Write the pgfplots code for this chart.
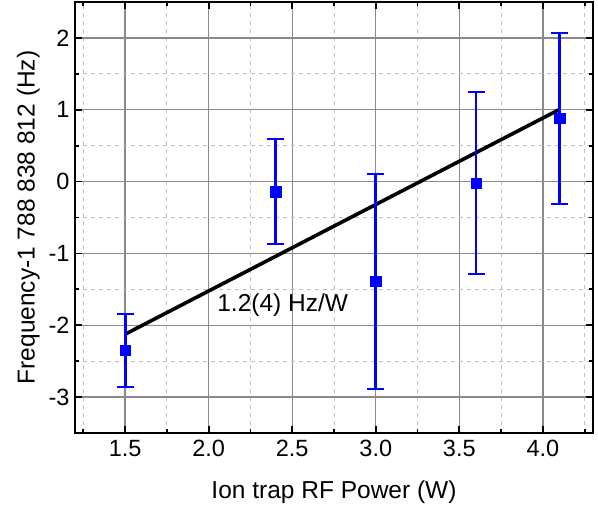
\documentclass[border=0pt]{standalone}
\usepackage{pgfplots}
\pgfplotsset{compat=1.18}
\usepackage{fontspec}
\setmainfont{Liberation Sans}
\definecolor{majgrid}{HTML}{8A8A8A}
\definecolor{mingrid}{HTML}{C0C0C0}
\begin{document}
\begin{tikzpicture}
\begin{axis}[
  name=ax,
  scale only axis,
  width=518pt, height=431pt,
  xmin=1.2, xmax=4.3, ymin=-3.5, ymax=2.5,
  xtick={1.5,2.0,2.5,3.0,3.5,4.0},
  ytick={-3,-2,-1,0,1,2},
  minor xtick={1.25,1.75,2.25,2.75,3.25,3.75,4.25},
  minor ytick={-2.5,-1.5,-0.5,0.5,1.5},
  grid=both,
  major grid style={majgrid, line width=1.4pt},
  minor grid style={mingrid, line width=1pt, dash pattern=on 4pt off 4pt},
  axis line style={black, line width=2.4pt},
  tick style={black, line width=1.8pt},
  major tick length=7pt, minor tick length=4pt,
  tick align=inside,
  xtick pos=both, ytick pos=both,
  /pgf/number format/assume math mode=true,
  tick label style={font=\fontsize{23.5}{26}\selectfont},
  xticklabel style={/pgf/number format/fixed, /pgf/number format/fixed zerofill, /pgf/number format/precision=1, yshift=-4pt},
  yticklabel style={xshift=-2pt},
  label style={font=\fontsize{24.5}{28}\selectfont},
  xlabel={Ion trap RF Power (W)},
  ylabel={Frequency-1 788 838 812 (Hz)},
  xlabel style={yshift=-17pt},
  ylabel style={yshift=2pt},
]
\addplot[black, line width=3.6pt] coordinates {(1.5,-2.125) (4.1,1.005)};
\addplot[blue, only marks, mark=square*, mark size=5.2pt, mark options={blue},
  error bars/.cd, y dir=both, y explicit,
  error bar style={blue, line width=2.8pt},
  error mark options={blue, line width=2.2pt, mark size=8.5pt, rotate=90}]
  table[x=x, y=y, y error=e] {
  x    y      e
  1.5  -2.35  0.51
  2.4  -0.14  0.73
  3.0  -1.39  1.50
  3.6  -0.02  1.27
  4.1  0.88   1.19
};
\node[font=\fontsize{24.5}{28}\selectfont] at (axis cs:2.443,-1.72) {1.2(4) Hz/W};
\end{axis}
\pgfresetboundingbox
\path[use as bounding box] ([shift={(-75pt,-80pt)}]ax.south west) rectangle ([shift={(5pt,2pt)}]ax.north east);
\end{tikzpicture}
\end{document}
